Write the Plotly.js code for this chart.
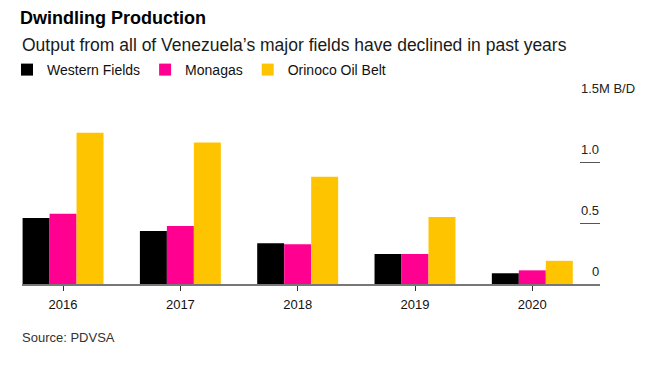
<!DOCTYPE html>
<html>
<head>
<meta charset="utf-8">
<script src="https://cdn.plot.ly/plotly-3.0.1.min.js"></script>
<style>
  html, body { margin: 0; padding: 0; background: #fff; }
  #chart { width: 652px; height: 367px; }
</style>
</head>
<body>
<div id="chart"></div>
<script>
// ---- data ----
const years = ["2016", "2017", "2018", "2019", "2020"];
const westernFields = [0.54, 0.435, 0.334, 0.246, 0.088];
const monagas = [0.575, 0.475, 0.325, 0.246, 0.112];
const orinoco = [1.24, 1.16, 0.88, 0.55, 0.19];
const seriesNames = ["Western Fields", "Monagas", "Orinoco Oil Belt"];
const seriesColors = ["#000000", "#FF0090", "#FFC400"];
const yTickVals = [0, 0.5, 1.0, 1.5];
const yTickText = ["0", "0.5", "1.0", "1.5"];
const yUnit = "M B/D";

const FONT = "Liberation Sans, Arial, Helvetica, sans-serif";

const seriesValues = [westernFields, monagas, orinoco];
const traces = seriesValues.map((vals, i) => ({
  type: "bar",
  name: seriesNames[i],
  x: years,
  y: vals,
  marker: { color: seriesColors[i], line: { width: 0 } },
  hoverinfo: "skip"
}));

const annotations = [];
yTickVals.forEach((v, i) => {
  annotations.push({
    xref: "paper", yref: "y", x: 1, y: v,
    xanchor: "right", yanchor: "bottom", yshift: 3, xshift: 1,
    text: yTickText[i], showarrow: false,
    font: { family: FONT, size: 13, color: "#222" }
  });
});
annotations.push({
  xref: "paper", yref: "y", x: 1, y: yTickVals[yTickVals.length - 1],
  xanchor: "left", yanchor: "bottom", yshift: 3, xshift: -3,
  text: yUnit, showarrow: false,
  font: { family: FONT, size: 13, color: "#222" }
});
annotations.push({
  xref: "paper", yref: "paper", x: 0, y: 1.306,
  xanchor: "left", yanchor: "middle", xshift: -2,
  text: "Output from all of Venezuela’s major fields have declined in past years",
  showarrow: false,
  font: { family: FONT, size: 17.5, color: "#1a1a1a" }
});
annotations.push({
  xref: "paper", yref: "paper", x: 0, y: -0.29,
  xanchor: "left", yanchor: "middle", xshift: -2,
  text: "Source: PDVSA", showarrow: false,
  font: { family: FONT, size: 13, color: "#333" }
});

const layout = {
  width: 652, height: 367,
  margin: { l: 22, r: 52, t: 101, b: 83 },
  paper_bgcolor: "#fff", plot_bgcolor: "#fff",
  font: { family: FONT, color: "#222" },
  title: {
    text: "<b>Dwindling Production</b>",
    xref: "container", yref: "container",
    x: 20 / 652, xanchor: "left",
    y: 1 - 11 / 367, yanchor: "top",
    pad: { t: 0, b: 0, l: 0, r: 0 },
    font: { family: FONT, size: 18, color: "#000" }
  },
  barmode: "group",
  bargap: 0.31,
  bargroupgap: 0,
  showlegend: true,
  legend: {
    orientation: "h",
    xref: "container", yref: "container",
    x: 7 / 652, xanchor: "left",
    y: 1 - 70 / 367, yanchor: "middle",
    font: { family: FONT, size: 14, color: "#111" },
    traceorder: "normal",
    bgcolor: "rgba(0,0,0,0)"
  },
  xaxis: {
    type: "category",
    range: [-0.35, 4.577],
    showline: true, linecolor: "#777", linewidth: 1.5,
    ticks: "outside", ticklen: 5, tickcolor: "#333", tickwidth: 1,
    ticklabelstandoff: 3,
    showgrid: false, zeroline: false,
    tickfont: { family: FONT, size: 13, color: "#111" },
    fixedrange: true
  },
  yaxis: {
    side: "right",
    range: [0, 1.5],
    tickvals: yTickVals.slice(1),
    ticks: "inside", ticklen: 20, tickcolor: "#555", tickwidth: 1,
    showticklabels: false,
    showgrid: false, zeroline: false, showline: false,
    fixedrange: true
  },
  annotations: annotations
};

Plotly.newPlot("chart", traces, layout, { displayModeBar: false, staticPlot: true });
</script>
</body>
</html>
